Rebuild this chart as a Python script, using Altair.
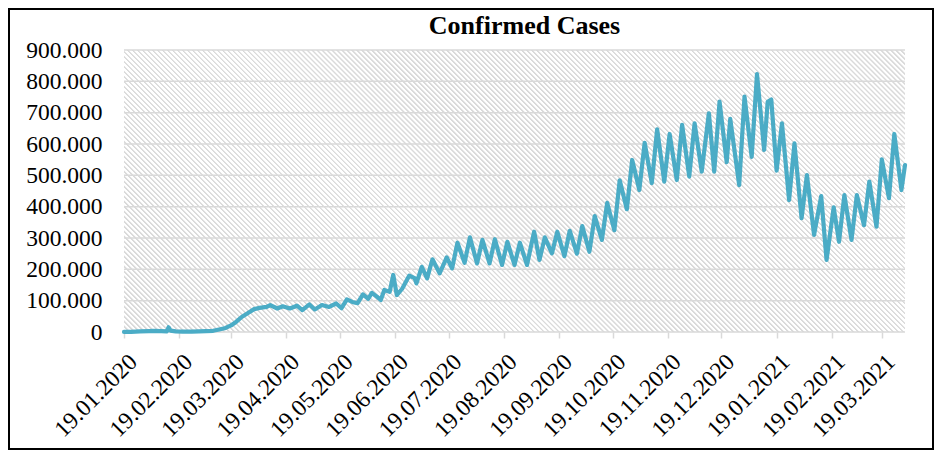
import altair as alt
import pandas as pd

# ---------------- data ----------------
dates = [
    "2020-01-19", "2020-01-23", "2020-01-28", "2020-02-02", "2020-02-05", "2020-02-09",
    "2020-02-12", "2020-02-13", "2020-02-14", "2020-02-17", "2020-02-21", "2020-02-26",
    "2020-03-01", "2020-03-05", "2020-03-09", "2020-03-13", "2020-03-16", "2020-03-19",
    "2020-03-22", "2020-03-25", "2020-03-29", "2020-04-01", "2020-04-04", "2020-04-08",
    "2020-04-10", "2020-04-14", "2020-04-17", "2020-04-21", "2020-04-25", "2020-04-28",
    "2020-05-02", "2020-05-05", "2020-05-09", "2020-05-13", "2020-05-17", "2020-05-20",
    "2020-05-23", "2020-05-26", "2020-05-29", "2020-06-01", "2020-06-04", "2020-06-06",
    "2020-06-09", "2020-06-11", "2020-06-13", "2020-06-16", "2020-06-18", "2020-06-20",
    "2020-06-23", "2020-06-27", "2020-06-30", "2020-07-01", "2020-07-04", "2020-07-07",
    "2020-07-10", "2020-07-14", "2020-07-18", "2020-07-21", "2020-07-24", "2020-07-28",
    "2020-07-31", "2020-08-04", "2020-08-07", "2020-08-11", "2020-08-14", "2020-08-18",
    "2020-08-21", "2020-08-25", "2020-08-28", "2020-09-01", "2020-09-05", "2020-09-08",
    "2020-09-11", "2020-09-15", "2020-09-18", "2020-09-22", "2020-09-25", "2020-09-29",
    "2020-10-02", "2020-10-06", "2020-10-09", "2020-10-13", "2020-10-16", "2020-10-20",
    "2020-10-23", "2020-10-27", "2020-10-30", "2020-11-03", "2020-11-06", "2020-11-10",
    "2020-11-13", "2020-11-17", "2020-11-20", "2020-11-24", "2020-11-27", "2020-12-01",
    "2020-12-04", "2020-12-08", "2020-12-12", "2020-12-15", "2020-12-18", "2020-12-22",
    "2020-12-24", "2020-12-29", "2021-01-01", "2021-01-05", "2021-01-08", "2021-01-12",
    "2021-01-14", "2021-01-16", "2021-01-19", "2021-01-22", "2021-01-26", "2021-01-29",
    "2021-02-02", "2021-02-05", "2021-02-09", "2021-02-13", "2021-02-16", "2021-02-20",
    "2021-02-23", "2021-02-26", "2021-03-02", "2021-03-05", "2021-03-09", "2021-03-12",
    "2021-03-16", "2021-03-19", "2021-03-23", "2021-03-26", "2021-03-30", "2021-04-01",
]
cases = [
    100, 600, 1700, 2800, 3700, 2900,
    2000, 15000, 4500, 2000, 900, 1000,
    1900, 2600, 3800, 9000, 13000, 21000,
    33000, 48000, 62000, 73000, 77000, 80000,
    86000, 75000, 82000, 75000, 84000, 70000,
    88000, 72000, 86000, 80000, 91000, 76000,
    104000, 96000, 92000, 120000, 106000, 125000,
    112000, 102000, 134000, 128000, 182000, 118000,
    138000, 180000, 172000, 155000, 208000, 171000,
    232000, 187000, 238000, 203000, 285000, 221000,
    302000, 219000, 294000, 219000, 296000, 214000,
    288000, 214000, 285000, 214000, 320000, 230000,
    302000, 251000, 320000, 242000, 323000, 250000,
    338000, 256000, 370000, 294000, 412000, 325000,
    484000, 392000, 549000, 453000, 604000, 475000,
    647000, 480000, 632000, 485000, 661000, 496000,
    666000, 512000, 698000, 512000, 735000, 542000,
    680000, 469000, 751000, 559000, 823000, 581000,
    735000, 742000, 515000, 666000, 421000, 602000,
    363000, 501000, 310000, 434000, 230000, 398000,
    288000, 437000, 294000, 437000, 341000, 480000,
    336000, 551000, 427000, 632000, 453000, 533000,
]
tick_dates = [
    "2020-01-19", "2020-02-19", "2020-03-19", "2020-04-19", "2020-05-19", "2020-06-19",
    "2020-07-19", "2020-08-19", "2020-09-19", "2020-10-19", "2020-11-19", "2020-12-19",
    "2021-01-19", "2021-02-19", "2021-03-19",
]
y_ticks = [0, 100000, 200000, 300000, 400000, 500000, 600000, 700000, 800000, 900000]
title_text = "Confirmed Cases"

# ---------------- layout / style ----------------
W, H = 781, 282
PAD = {"left": 116, "top": 42, "right": 29, "bottom": 118}
FONT = "Liberation Serif"
LINE_COLOR = "#4BACC6"
GRID_COLOR = "#D9D9D9"
STRIPE = "#DADADA"


def ms(d):
    return int(pd.Timestamp(d, tz="UTC").timestamp() * 1000)


df = pd.DataFrame({"date": dates, "cases": cases})
grid_df = pd.DataFrame({"cases": y_ticks})
one_df = pd.DataFrame({"k": [0]})

x_scale = alt.Scale(type="utc", domain=[ms(dates[0]), ms(dates[-1])], nice=False)
y_scale = alt.Scale(domain=[y_ticks[0], y_ticks[-1]], nice=False)

x_axis = alt.Axis(
    values=[ms(d) for d in tick_dates],
    labelExpr="utcFormat(datum.value, '%d.%m.%Y')",
    labelAngle=-45, labelAlign="right", labelBaseline="middle",
    labelPadding=20, labelOffset=9, labelFlush=False, labelOverlap=False, labelBound=False,
    labelFont=FONT, labelFontSize=23.5, labelColor="black",
    tickSize=6, tickColor=GRID_COLOR, tickWidth=1.5,
    domain=False, grid=False, title=None,
)
y_axis = alt.Axis(
    values=y_ticks,
    labelExpr="replace(format(datum.value, ','), ',', '.')",
    ticks=False, tickSize=0, domain=False, grid=False, labelPadding=22,
    labelFont=FONT, labelFontSize=23.5, labelColor="black", title=None,
    labelOverlap=False, labelBound=False,
)

# hatched plot background (downward diagonal stripes at 45 degrees)
r = H / W
s = (1 + r) / (1 + r * r)
N = round((W + H) / 5.0)
stops = []
for k in range(N):
    a = k / N
    for off, col in ((0.0, STRIPE), (0.25, STRIPE), (0.5, "#FFFFFF"), (0.95, "#FFFFFF")):
        stops.append({"offset": round(a + off / N, 6), "color": col})
gradient = {"gradient": "linear", "x1": 0, "y1": 1, "x2": round(s, 5), "y2": round(1 - s * r, 5),
            "stops": stops}

bg = alt.Chart(one_df).mark_rect(fill=gradient, strokeWidth=0).encode(
    x=alt.value(0), x2=alt.value(W), y=alt.value(0), y2=alt.value(H)
)

grid = alt.Chart(grid_df).mark_rule(color=GRID_COLOR, strokeWidth=1.5).encode(
    y=alt.Y("cases:Q", scale=y_scale, axis=y_axis)
)

line = alt.Chart(df).mark_line(
    color=LINE_COLOR, strokeWidth=4.2, strokeJoin="round", strokeCap="round"
).encode(
    x=alt.X("date:T", scale=x_scale, axis=x_axis),
    y=alt.Y("cases:Q", scale=y_scale, axis=y_axis),
)

frame = alt.Chart(one_df).mark_rect(
    fill="transparent", stroke="black", strokeWidth=2, clip=False
).encode(
    x=alt.value(-PAD["left"] + 1), x2=alt.value(W + PAD["right"] - 1),
    y=alt.value(-PAD["top"] + 1), y2=alt.value(H + PAD["bottom"] - 1),
)

chart = alt.layer(bg, grid, line, frame).properties(
    width=W, height=H,
    padding=PAD,
    autosize=alt.AutoSizeParams(type="none"),
    title=alt.TitleParams(
        title_text, font=FONT, fontSize=26, fontWeight="bold", color="black",
        anchor="middle", frame="group", offset=-31, dx=10,
    ),
).configure_view(strokeWidth=0)

chart.save("out.html", embed_options={"renderer": "svg", "actions": False})
